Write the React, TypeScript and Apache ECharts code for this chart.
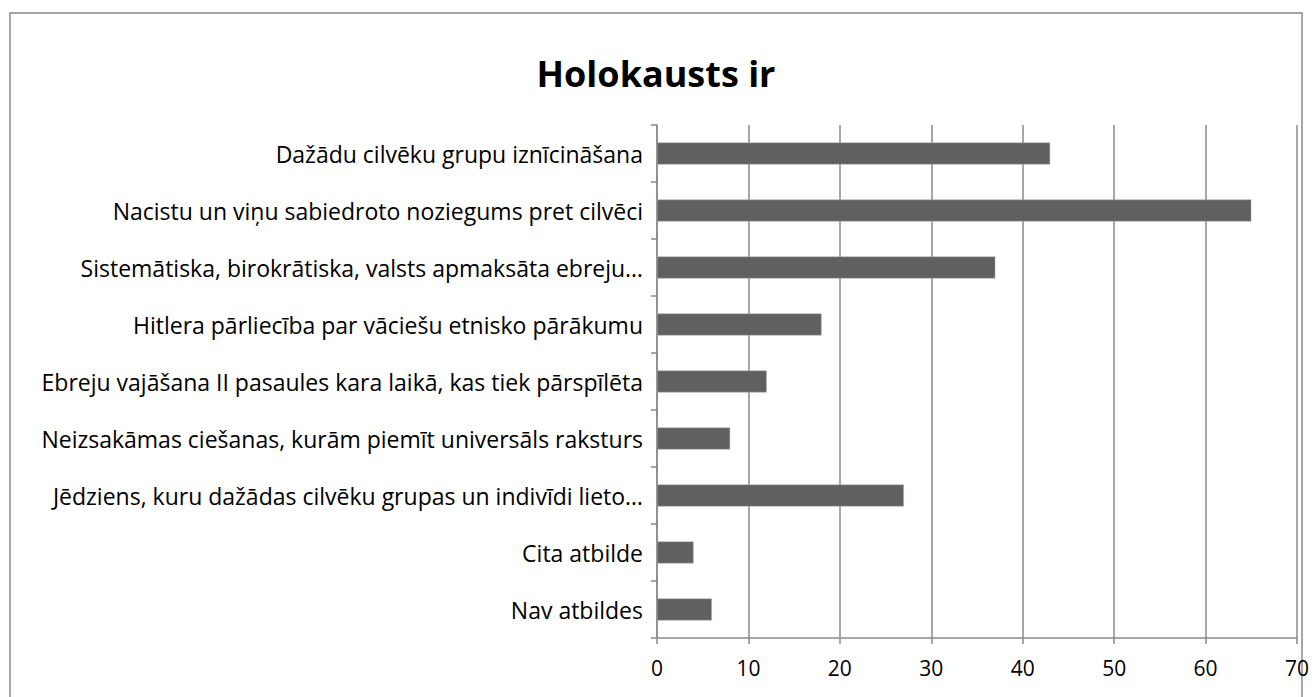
import React, { useEffect, useRef } from "react";
import * as echarts from "echarts";

const categories = [
  "Dažādu cilvēku grupu iznīcināšana",
  "Nacistu un viņu sabiedroto noziegums pret cilvēci",
  "Sistemātiska, birokrātiska, valsts apmaksāta ebreju…",
  "Hitlera pārliecība par vāciešu etnisko pārākumu",
  "Ebreju vajāšana II pasaules kara laikā, kas tiek pārspīlēta",
  "Neizsakāmas ciešanas, kurām piemīt universāls raksturs",
  "Jēdziens, kuru dažādas cilvēku grupas un indivīdi lieto…",
  "Cita atbilde",
  "Nav atbildes",
];
const values = [43, 65, 37, 18, 12, 8, 27, 4, 6];
const titleText = "Holokausts ir";

export default function App() {
  const ref = useRef<HTMLDivElement>(null);
  useEffect(() => {
    if (!ref.current) return;
    const chart = echarts.init(ref.current, undefined, { renderer: "svg" });
    const font = "'Open Sans', 'Noto Sans', sans-serif";
    chart.setOption({
      animation: false,
      backgroundColor: "#ffffff",
      title: {
        text: titleText,
        left: "center",
        top: 50,
        textStyle: { fontFamily: font, fontSize: 36, fontWeight: "bold", color: "#000" },
      },
      graphic: [
        {
          type: "rect",
          shape: { x: 10, y: 13, width: 1292, height: 700 },
          style: { fill: "none", stroke: "#8a8a8a", lineWidth: 1.5 },
          silent: true,
        },
      ],
      grid: { left: 657, top: 125, right: 15, bottom: 59, containLabel: false },
      xAxis: {
        type: "value",
        min: 0,
        max: 70,
        interval: 10,
        axisLine: { show: true, lineStyle: { color: "#8a8a8a", width: 1.5 } },
        axisTick: { show: true, length: 6, lineStyle: { color: "#8a8a8a", width: 1.5 } },
        splitLine: { show: true, lineStyle: { color: "#8a8a8a", width: 1.5 } },
        axisLabel: { fontFamily: font, fontSize: 21, color: "#000", margin: 19 },
      },
      yAxis: {
        type: "category",
        inverse: true,
        data: categories,
        axisLine: { show: true, lineStyle: { color: "#8a8a8a", width: 1.5 } },
        axisTick: { show: true, length: 6, inside: false, lineStyle: { color: "#8a8a8a", width: 1.5 } },
        axisLabel: { fontFamily: font, fontSize: 23, color: "#000", margin: 14 },
      },
      series: [
        {
          type: "bar",
          data: values,
          barWidth: 22,
          itemStyle: { color: "#606060", borderColor: "#b0b0b0", borderWidth: 0.5 },
        },
      ],
    });
    return () => chart.dispose();
  }, []);
  return (
    <div
      ref={ref}
      style={{ position: "fixed", left: 0, top: 0, width: 1312, height: 697 }}
    />
  );
}
